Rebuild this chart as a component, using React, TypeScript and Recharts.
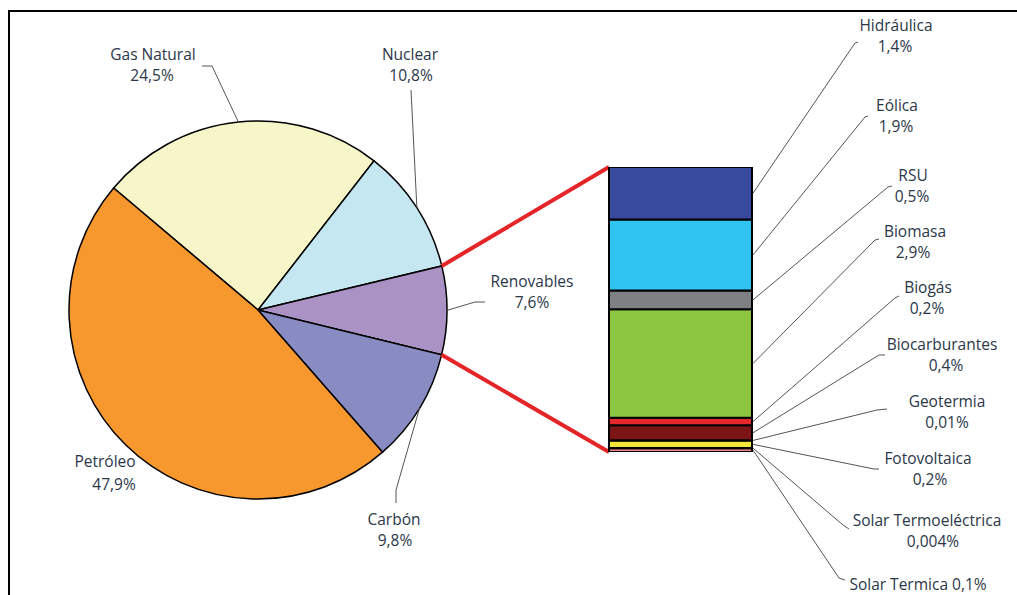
import { PieChart, Pie, Cell, BarChart, Bar, XAxis, YAxis } from 'recharts';

const W = 1017;
const H = 595;

// Consumo de energía primaria por fuente (%)
const SOURCES = ['Gas Natural', 'Nuclear', 'Renovables', 'Carbón', 'Petróleo'];
const SOURCE_VALUES = [24.5, 10.8, 7.6, 9.8, 47.9];
const SOURCE_COLORS = ['#F7F6C8', '#C4E7F1', '#AA92C5', '#898BC3', '#F7982E'];

// Desglose de renovables, de abajo arriba en la columna
const RENEW = [
  'Solar Termica',
  'Solar Termoeléctrica',
  'Fotovoltaica',
  'Geotermia',
  'Biocarburantes',
  'Biogás',
  'Biomasa',
  'RSU',
  'Eólica',
  'Hidráulica',
];
const RENEW_VALUES = [0.1, 0.004, 0.2, 0.01, 0.4, 0.2, 2.9, 0.5, 1.9, 1.4];
const RENEW_COLORS = [
  '#F58584',
  '#F4A340',
  '#F2E63A',
  '#E8822A',
  '#7D1517',
  '#E4282B',
  '#8DC641',
  '#7E8084',
  '#30C4F2',
  '#384A9D',
];
const RENEW_TOTAL = RENEW_VALUES.reduce((a, b) => a + b, 0);

const pieData = SOURCES.map((name, i) => ({ name, value: SOURCE_VALUES[i] }));
const barRow: Record<string, string | number> = { name: 'Renovables' };
RENEW.forEach((_, i) => {
  barRow['s' + i] = RENEW_VALUES[i];
});
const barData = [barRow];

const FONT = '"Open Sans", sans-serif';
const FONT_SIZE = 15.5;
const TEXT = '#2B3749';
const LEAD = '#555';

const fmt = (v: number) => String(v).replace('.', ',') + '%';

// pie geometry
const START = 139.8;
const PIE_CX = 258;
const PIE_CY = 310;
const PIE_R = 189;

// column plot box
const BOX = { left: 609, top: 167, right: 752, bottom: 452 };

type Pt = [number, number];
type LabelPos = { name: Pt; value?: Pt; line: Pt[]; inline?: boolean };

const pieLabelPos: LabelPos[] = [
  { name: [153, 60], value: [152, 81], line: [[212, 66], [202, 66]] },
  { name: [410, 60], value: [411, 81], line: [[411, 90]] },
  { name: [532, 287], value: [532, 308], line: [[475, 302], [485, 302]] },
  { name: [394, 525], value: [395, 546], line: [[396, 490], [396, 503]] },
  { name: [105, 467], value: [114, 490], line: [] },
];

const barLabelPos: LabelPos[] = [
  { name: [918, 590], line: [[839, 578], [845, 580]], inline: true },
  { name: [927, 526], value: [933, 547], line: [[843, 525], [849, 529]] },
  { name: [928, 464], value: [930, 485], line: [[874, 469], [879, 469]] },
  { name: [947, 407], value: [947, 428], line: [[877, 410], [887, 409]] },
  { name: [942, 350], value: [946, 371], line: [[879, 355], [885, 355]] },
  { name: [928, 293], value: [927, 314], line: [[895, 298], [899, 296]] },
  { name: [915, 237], value: [913, 258], line: [[875, 240], [879, 239]] },
  { name: [913, 181], value: [912, 202], line: [[888, 187], [892, 186]] },
  { name: [897, 111], value: [896, 132], line: [[865, 117], [868, 116]] },
  { name: [896, 31], value: [895, 52], line: [[855, 43], [858, 42]] },
];

const RAD = Math.PI / 180;
const polar = (cx: number, cy: number, r: number, a: number): Pt => [
  cx + Math.cos(-a * RAD) * r,
  cy + Math.sin(-a * RAD) * r,
];

function Callout({ from, pos, name, value }: { from: Pt; pos: LabelPos; name: string; value: number }) {
  const pts = [from, ...pos.line].map((p) => p.join(',')).join(' ');
  return (
    <g>
      {pos.line.length > 0 && <polyline points={pts} fill="none" stroke={LEAD} strokeWidth={1} />}
      <text x={pos.name[0]} y={pos.name[1]} textAnchor="middle" fontFamily={FONT} fontSize={FONT_SIZE} fill={TEXT}>
        {pos.inline ? `${name} ${fmt(value)}` : name}
      </text>
      {!pos.inline && pos.value && (
        <text x={pos.value[0]} y={pos.value[1]} textAnchor="middle" fontFamily={FONT} fontSize={FONT_SIZE} fill={TEXT}>
          {fmt(value)}
        </text>
      )}
    </g>
  );
}

function renderPieLabel(props: any) {
  const { cx, cy, outerRadius, midAngle, startAngle, endAngle, index } = props;
  const from = polar(cx, cy, outerRadius, midAngle);
  const label = (
    <Callout from={from} pos={pieLabelPos[index]} name={SOURCES[index]} value={SOURCE_VALUES[index]} />
  );
  if (SOURCES[index] !== 'Renovables') return label;
  // zoom lines from the renewables slice to the column
  const a = polar(cx, cy, outerRadius, startAngle);
  const b = polar(cx, cy, outerRadius, endAngle);
  return (
    <g>
      <line x1={a[0]} y1={a[1]} x2={BOX.left} y2={BOX.top} stroke="#E42528" strokeWidth={4} />
      <line x1={b[0]} y1={b[1]} x2={BOX.left} y2={BOX.bottom} stroke="#E42528" strokeWidth={4} />
      {label}
    </g>
  );
}

const makeBarLabel = (i: number) => (props: any) => {
  const vb = props.viewBox ?? props;
  const x = Number(vb.x ?? props.x);
  const y = Number(vb.y ?? props.y);
  const w = Number(vb.width ?? props.width);
  const h = Number(vb.height ?? props.height);
  const from: Pt = [x + w + 1, y + h / 2];
  return <Callout key={'bl' + i} from={from} pos={barLabelPos[i]} name={RENEW[i]} value={RENEW_VALUES[i]} />;
};

export default function App() {
  return (
    <div style={{ position: 'absolute', left: 0, top: 0, width: W, height: H, background: '#fff', overflow: 'hidden' }}>
      <div
        style={{
          position: 'absolute',
          left: 8,
          top: 10,
          width: W + 20,
          height: H + 20,
          borderLeft: '2px solid #000',
          borderTop: '2px solid #000',
        }}
      />
      <div style={{ position: 'absolute', left: 0, top: 0 }}>
        <PieChart width={W} height={H} margin={{ top: 0, right: 0, bottom: 0, left: 0 }}>
          <Pie
            data={pieData}
            dataKey="value"
            nameKey="name"
            cx={PIE_CX}
            cy={PIE_CY}
            outerRadius={PIE_R}
            startAngle={START}
            endAngle={START - 360}
            stroke="#000"
            strokeWidth={1.5}
            label={renderPieLabel}
            labelLine={false}
            isAnimationActive={false}
          >
            {pieData.map((d, i) => (
              <Cell key={d.name} fill={SOURCE_COLORS[i]} />
            ))}
          </Pie>
        </PieChart>
      </div>
      <div style={{ position: 'absolute', left: 0, top: 0 }}>
        <BarChart
          width={W}
          height={H}
          data={barData}
          barCategoryGap={0}
          margin={{ top: BOX.top, bottom: H - BOX.bottom, left: BOX.left, right: W - BOX.right }}
        >
          <XAxis dataKey="name" hide />
          <YAxis type="number" hide domain={[0, RENEW_TOTAL]} allowDataOverflow />
          {RENEW.map((name, i) => (
            <Bar
              key={name}
              dataKey={'s' + i}
              name={name}
              stackId="renov"
              fill={RENEW_COLORS[i]}
              stroke="#000"
              strokeWidth={2}
              label={makeBarLabel(i)}
              isAnimationActive={false}
            />
          ))}
        </BarChart>
      </div>
    </div>
  );
}
